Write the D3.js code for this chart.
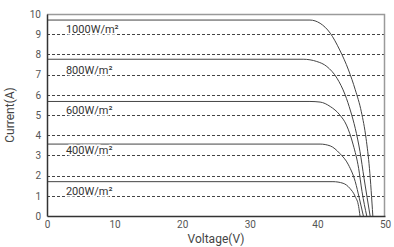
<!DOCTYPE html>
<html>
<head>
<meta charset="utf-8">
<script src="https://cdn.jsdelivr.net/npm/d3@7"></script>
<style>
  body { margin: 0; background: #fff; }
  text { font-family: Roboto, "DejaVu Sans Condensed", sans-serif; }
</style>
</head>
<body>
<div id="chart"></div>
<script>
// Tick values
const xTicks = [0, 10, 20, 30, 40, 50];
const yTicks = [0, 1, 2, 3, 4, 5, 6, 7, 8, 9, 10];
const gridLines = [1, 2, 3, 4, 5, 6, 7, 8, 9];

// Curve labels and the grid line each one sits on
const irradiance = ['1000W/m²', '800W/m²', '600W/m²', '400W/m²', '200W/m²'];
const labelAt = [9, 7, 5, 3, 1];

// I-V curves: [voltage, current]
const curve1000 = [[0, 9.70], [38.9, 9.70], [40.4, 9.54], [41.9, 9.05], [43.3, 8.22], [44.6, 7.23],
  [45.6, 6.25], [46.5, 5.16], [47.2, 3.84], [47.7, 2.36], [48.2, 0]];
const curve800 = [[0, 7.76], [37.9, 7.76], [39.9, 7.65], [41.4, 7.40], [42.9, 6.82], [44.1, 6.0],
  [44.9, 5.2], [45.6, 4.34], [46.3, 3.19], [46.9, 1.87], [47.8, 0]];
const curve600 = [[0, 5.67], [38.9, 5.67], [40.4, 5.64], [41.9, 5.42], [43.3, 5.01], [44.3, 4.50],
  [45.3, 3.52], [46.1, 2.36], [46.6, 1.21], [47.3, 0]];
const curve400 = [[0, 3.56], [40.4, 3.56], [41.9, 3.47], [43.3, 3.10], [44.6, 2.53], [45.6, 1.70],
  [46.2, 0.88], [46.8, 0]];
const curve200 = [[0, 1.70], [42.3, 1.70], [43.8, 1.62], [44.8, 1.37], [45.6, 0.96], [46.1, 0.47],
  [46.3, 0]];

const curves = [curve1000, curve800, curve600, curve400, curve200];

// Setting dimensions
const margin = {top: 14, right: 9, bottom: 31, left: 47},
  width = 394 - margin.left - margin.right,
  height = 247 - margin.top - margin.bottom;

const svg = d3.select('#chart')
  .append('svg')
  .attr('width', 394)
  .attr('height', 247)
  .append('g')
  .attr('transform', `translate(${margin.left}, ${margin.top})`);

const xScale = d3.scaleLinear().domain([0, 50]).range([0, width]);
const yScale = d3.scaleLinear().domain([0, 10]).range([height, 0]);

// Dashed grid
svg.selectAll('.grid')
  .data(gridLines)
  .enter()
  .append('line')
  .attr('x1', 0)
  .attr('x2', width)
  .attr('y1', d => Math.round(yScale(d)) + 0.5)
  .attr('y2', d => Math.round(yScale(d)) + 0.5)
  .attr('stroke', '#444')
  .attr('stroke-width', 1)
  .attr('stroke-dasharray', '3,2');

// Top and right frame
svg.append('path')
  .attr('d', `M0,0.5H${width - 0.5}V${height}`)
  .attr('fill', 'none')
  .attr('stroke', '#9a9a9a')
  .attr('stroke-width', 1.5);

// Curves
const line = d3.line()
  .x(d => xScale(d[0]))
  .y(d => yScale(d[1]))
  .curve(d3.curveMonotoneX);

svg.selectAll('.curve')
  .data(curves)
  .enter()
  .append('path')
  .attr('d', d => line(d))
  .attr('fill', 'none')
  .attr('stroke', '#444')
  .attr('stroke-width', 1);

// Curve labels
svg.selectAll('.label')
  .data(irradiance)
  .enter()
  .append('text')
  .attr('x', xScale(2.8))
  .attr('y', (d, i) => yScale(labelAt[i]) - 1)
  .attr('font-size', 11)
  .attr('fill', '#333')
  .attr('stroke', '#fff')
  .attr('stroke-width', 3)
  .attr('paint-order', 'stroke')
  .text(d => d);

// Axes
const xAxis = svg.append('g')
  .attr('transform', `translate(0,${height})`)
  .call(d3.axisBottom(xScale).tickValues(xTicks).tickSize(0).tickPadding(5));

const yAxis = svg.append('g')
  .call(d3.axisLeft(yScale).tickValues(yTicks).tickSize(0).tickPadding(6));

[xAxis, yAxis].forEach(ax => {
  ax.select('.domain').attr('stroke', '#333').attr('stroke-width', 1.5);
  ax.selectAll('text').attr('font-size', 10).attr('fill', '#555')
    .style('font-family', 'Roboto, sans-serif');
});

// Axis titles
svg.append('text')
  .attr('x', width / 2)
  .attr('y', height + 27)
  .attr('text-anchor', 'middle')
  .attr('font-size', 12)
  .attr('fill', '#444')
  .text('Voltage(V)');

svg.append('text')
  .attr('transform', `translate(${-33},${height / 2}) rotate(-90)`)
  .attr('text-anchor', 'middle')
  .attr('font-size', 12)
  .attr('fill', '#444')
  .text('Current(A)');
</script>
</body>
</html>
